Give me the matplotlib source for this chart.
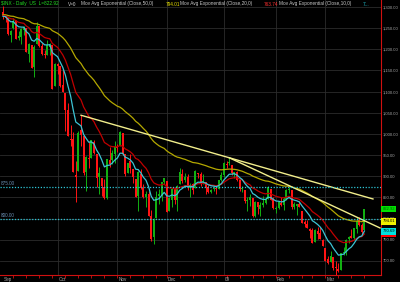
import matplotlib
matplotlib.use("Agg")
import matplotlib.pyplot as plt
import matplotlib.transforms as mtransforms
import numpy as np

plt.rcParams['font.family'] = ['Liberation Sans', 'DejaVu Sans']

# daily candles, Sep 2008 .. Mar 23 2009
opens = [1287.8, 1276.6, 1275.0, 1233.2, 1249.5, 1267.0, 1227.5, 1229.0, 1245.9, 1250.9, 1188.3,
         1210.3, 1157.1, 1213.1, 1255.4, 1207.6, 1188.8, 1186.7, 1204.5, 1209.1, 1113.8,
         1164.2, 1160.6, 1115.2, 1097.6, 1057.6, 988.9, 988.4, 902.3, 912.8, 1010.0, 994.6,
         909.5, 942.3, 943.5, 980.4, 951.7, 899.1, 895.2, 874.3, 848.9, 939.5, 939.4, 953.1,
         968.7, 971.3, 1001.8, 952.4, 907.4, 936.8, 917.2, 893.4, 853.1, 904.4, 873.2, 852.3,
         859.0, 805.9, 755.8, 801.2, 853.4, 852.9, 886.9,
         888.6, 817.9, 843.6, 869.8, 844.4, 882.7, 906.5, 892.2, 898.4, 871.8, 881.1, 871.5,
         908.2, 905.0, 887.0, 887.2, 874.3, 863.9, 869.5, 872.4, 870.6, 890.6,
         903.0, 929.2, 931.2, 927.5, 905.7, 909.9, 890.4, 869.8, 867.3, 842.0, 844.5, 849.6,
         806.8, 839.7, 822.2, 832.5, 837.3, 845.7, 868.9, 845.7,
         823.1, 825.7, 837.8, 831.8, 846.1, 868.2, 866.9, 827.4, 829.9, 834.0, 818.6, 791.1,
         787.9, 775.9, 773.3, 744.7, 770.6, 765.8, 749.9,
         729.6, 704.4, 698.6, 708.3, 684.0, 680.8, 679.3, 719.6, 720.9, 752.0, 758.8, 753.9,
         776.0, 797.9, 784.6, 772.3]
highs = [1303.0, 1280.6, 1275.0, 1244.9, 1274.4, 1268.7, 1243.9, 1249.9, 1255.1, 1250.9, 1214.8,
         1210.3, 1211.1, 1265.3, 1255.4, 1213.9, 1197.4, 1221.0, 1215.8, 1209.1, 1168.0,
         1167.0, 1160.6, 1153.8, 1097.6, 1072.9, 1021.1, 1005.3, 936.4, 1006.9, 1044.3, 994.6,
         947.7, 984.6, 985.4, 985.4, 951.7, 922.8, 896.3, 893.8, 940.5, 970.0, 963.2, 984.4,
         975.5, 1007.5, 1001.8, 952.4, 931.5, 952.0, 917.2, 893.4, 913.0, 916.9, 882.3, 865.9,
         864.6, 820.5, 801.2, 865.6, 868.9, 887.7, 896.3,
         888.6, 850.5, 873.1, 875.6, 879.4, 918.6, 916.3, 908.3, 904.6, 883.2, 884.6, 914.7,
         908.2, 911.0, 905.5, 887.4, 880.4, 869.8, 873.7, 873.7, 891.1, 910.3,
         934.7, 936.6, 943.9, 927.5, 910.0, 911.9, 890.4, 877.0, 867.3, 851.6, 858.1, 849.6,
         841.7, 839.7, 838.6, 852.5, 850.5, 877.9, 868.9, 851.7,
         830.8, 842.6, 851.9, 850.6, 870.8, 875.0, 868.1, 838.2, 835.5, 841.6, 818.6, 796.2,
         797.6, 778.7, 777.9, 775.5, 780.1, 779.4, 751.3,
         729.6, 711.7, 724.1, 708.3, 699.1, 695.3, 719.6, 731.9, 752.6, 758.3, 774.5, 778.1,
         803.0, 803.2, 788.9, 823.4]
lows = [1272.2, 1265.6, 1232.8, 1217.2, 1247.1, 1224.5, 1221.6, 1211.5, 1233.8, 1192.7, 1169.3,
        1155.9, 1133.5, 1213.1, 1205.6, 1187.6, 1179.8, 1186.7, 1187.5, 1106.4, 1113.8,
        1140.8, 1111.4, 1098.1, 1008.0, 996.2, 971.0, 909.2, 839.8, 912.8, 972.1, 904.0,
        865.8, 918.7, 943.5, 952.5, 875.8, 858.4, 852.9, 846.8, 845.3, 922.3, 928.9, 931.0,
        958.4, 971.3, 949.9, 899.7, 906.9, 907.5, 884.9, 850.5, 818.7, 869.9, 849.0, 826.8,
        806.2, 747.8, 741.0, 801.2, 835.0, 841.4, 881.2,
        815.7, 817.9, 827.6, 833.6, 818.4, 882.7, 885.4, 885.5, 866.8, 851.4, 857.7, 871.5,
        895.9, 877.4, 883.0, 857.1, 860.1, 861.4, 866.5, 857.1, 870.6, 889.4,
        899.4, 919.5, 927.3, 902.4, 896.8, 888.3, 864.3, 862.0, 836.9, 817.0, 830.7, 804.5,
        804.3, 811.3, 806.1, 827.7, 835.4, 845.7, 844.2, 821.7,
        812.9, 822.0, 829.2, 819.9, 845.1, 861.7, 823.0, 823.0, 808.1, 826.5, 789.2, 780.7,
        777.0, 754.3, 742.4, 744.7, 752.9, 751.8, 734.5,
        699.7, 692.3, 698.6, 677.9, 666.8, 672.9, 679.3, 713.9, 714.8, 742.5, 753.4, 749.9,
        765.6, 781.8, 762.6, 772.3]
closes = [1277.6, 1275.0, 1236.8, 1242.3, 1267.8, 1224.5, 1232.0, 1249.1, 1251.7, 1192.7, 1213.6,
          1156.4, 1206.5, 1255.1, 1207.1, 1188.2, 1185.9, 1209.2, 1213.3, 1106.4, 1166.4,
          1161.1, 1114.3, 1099.2, 1056.9, 996.2, 984.9, 909.9, 899.2, 1003.4, 998.0, 907.8,
          946.4, 940.6, 985.4, 955.1, 896.8, 908.1, 876.8, 848.9, 940.5, 930.1, 954.1, 968.8,
          966.3, 1005.8, 952.8, 904.9, 931.0, 919.2, 899.0, 852.3, 911.3, 873.3, 850.8, 859.1,
          806.6, 752.4, 800.0, 851.8, 857.4, 887.7, 896.2,
          816.2, 848.8, 870.7, 845.2, 876.1, 909.7, 888.7, 899.2, 873.6, 879.7, 868.6, 913.2,
          904.4, 885.3, 887.9, 871.6, 863.2, 868.2, 872.8, 869.4, 890.6, 903.3,
          931.8, 927.5, 934.7, 906.7, 909.7, 890.4, 870.3, 871.8, 842.6, 843.7, 850.1, 805.2,
          840.2, 827.5, 832.0, 836.6, 845.7, 874.1, 845.1, 825.9,
          825.4, 838.5, 832.2, 845.9, 868.6, 869.9, 827.2, 833.7, 835.2, 826.8, 789.2, 788.4,
          778.9, 770.1, 743.3, 773.1, 764.9, 752.8, 735.1,
          700.8, 696.3, 712.9, 682.6, 683.4, 676.5, 719.6, 721.4, 750.7, 756.6, 753.9, 778.1,
          794.4, 784.0, 768.5, 822.9]

month_labels = ['Sep', 'Oct', 'Nov', 'Dec', '09', 'Feb', 'Mar']
month_starts = [0, 21, 44, 63, 85, 105, 124]
week_starts = [4, 9, 14, 19, 24, 29, 34, 39, 44, 49, 54, 59, 63, 68, 73, 78, 82, 86, 91,
               96, 100, 105, 110, 115, 119, 124, 129, 134, 139]

# EMA starting values (end of Aug 2008)
seed10 = 1278
seed20 = 1280
seed50 = 1282

# trend lines: two anchor highs each, and where they stop
trend1_x = [30, 87]
trend1_y = [1044.3, 943.9]
trend1_end = 142.3
trend2_x = [87, 107]
trend2_y = [943.9, 886.7]
trend2_end = 145

levels = [875, 800]


def ema(values, n, seed):
    k = 2.0 / (n + 1)
    out = []
    e = seed
    for v in values:
        e = e + k * (v - e)
        out.append(e)
    return np.array(out)


o = np.array(opens)
h = np.array(highs)
l = np.array(lows)
c = np.array(closes)
x = np.arange(len(c))

ema10 = ema(c, 10, seed10)
ema20 = ema(c, 20, seed20)
ema50 = ema(c, 50, seed50)

fig = plt.figure(figsize=(4, 2.82), dpi=100, facecolor='black')
ax = fig.add_axes([0, 7 / 282, 381 / 400, 275 / 282])
ax.set_facecolor('black')
ax.set_xlim(-3 / 2.6, 378 / 2.6)
ax.set_ylim(666.9, 1316.5)

# grid
for p in range(700, 1301, 50):
    ax.axhline(p, color='#2c2c2c', lw=0.6, zorder=0)
for m in month_starts[1:]:
    ax.axvline(m, color='#2c2c2c', lw=0.6, zorder=0)

# candles
up = c >= o
cols = np.where(up, '#12b012', '#ff1414')
ax.vlines(x, l, h, colors=cols, lw=0.7, zorder=2)
ax.bar(x, np.maximum(np.abs(c - o), 1.5), bottom=np.minimum(o, c), width=0.75,
       color=cols, lw=0, zorder=3)

# moving averages
ax.plot(x, ema50, color='#b4a800', lw=0.9, zorder=4)
ax.plot(x, ema20, color='#c00000', lw=0.9, zorder=4)
ax.plot(x, ema10, color='#3cc4d4', lw=0.9, zorder=5)

# trend lines
s1 = (trend1_y[1] - trend1_y[0]) / (trend1_x[1] - trend1_x[0])
ax.plot([trend1_x[0], trend1_end], [trend1_y[0], trend1_y[0] + s1 * (trend1_end - trend1_x[0])],
        color='#f2ee8c', lw=1.0, zorder=6)
s2 = (trend2_y[1] - trend2_y[0]) / (trend2_x[1] - trend2_x[0])
ax.plot([trend2_x[0], trend2_end], [trend2_y[0], trend2_y[0] + s2 * (trend2_end - trend2_x[0])],
        color='#f2ee8c', lw=1.0, zorder=6)

# horizontal levels
blend = mtransforms.blended_transform_factory(ax.transAxes, ax.transData)
for lv in levels:
    ax.axhline(lv, color='#2ec4d6', lw=0.9, ls=(0, (1, 1.3)), zorder=6)
    ax.text(0.003, lv + 2, f'{lv:.2f}', transform=blend, fontsize=3.3, color='#6a90b4',
            va='bottom', ha='left', zorder=7)

# axes styling
for side in ['top', 'left']:
    ax.spines[side].set_visible(False)
ax.spines['right'].set_color('#d01010')
ax.spines['bottom'].set_color('#d01010')
ax.spines['right'].set_linewidth(0.8)
ax.spines['bottom'].set_linewidth(0.8)

ax.yaxis.tick_right()
ax.set_yticks(range(700, 1301, 50))
ax.set_yticklabels([f'{p:,.2f}' for p in range(700, 1301, 50)])
ax.tick_params(axis='y', length=0, pad=1.0, labelsize=3.0, labelcolor='#a8a8a8')

ax.set_xticks(week_starts)
ax.set_xticklabels([])
ax.tick_params(axis='x', length=2, width=0.6, color='#d01010', direction='out')

xblend = mtransforms.blended_transform_factory(ax.transData, ax.transAxes)
for m, lab in zip(month_starts, month_labels):
    ax.text(m + 0.3, -0.016, lab, transform=xblend, fontsize=3.3, color='#a8a8a8',
            ha='left', va='center', clip_on=False)

# last value boxes on the right
boxes = [(ema20[-1], '763.74', '#ff0000', '#ffffff'),
         (ema10[-1], f'{ema10[-1]:.2f}', '#00e0e0', '#000000'),
         (ema50[-1], '794.01', '#f0f000', '#000000'),
         (c[-1], '822.92', '#00e000', '#006000')]
for i, (val, txt, bg, fg) in enumerate(boxes):
    ax.text(1.004, val, txt, transform=blend, fontsize=3.0, color=fg, ha='left', va='center',
            bbox=dict(boxstyle='square,pad=0.35', fc=bg, ec='none'), zorder=10 + i, clip_on=False)

# header
hy = 1 - 4 / 282
header = [(1, '$INX - Daily  US  L=822.92', '#22dd22'),
          (68, 'V=0', '#d0d0d0'),
          (81, 'Mov Avg Exponential (Close,50,0)', '#c8c8c8'),
          (166, '794.01', '#e8e000'),
          (180, 'Mov Avg Exponential (Close,20,0)', '#c8c8c8'),
          (264, '763.74', '#ff3030'),
          (279, 'Mov Avg Exponential (Close,10,0)', '#c8c8c8'),
          (363, '7...', '#20c8d8')]
for px, txt, col in header:
    fig.text(px / 400, hy, txt, fontsize=3.4, color=col, ha='left', va='center')

fig.savefig('out.png', dpi=100, facecolor='black')
